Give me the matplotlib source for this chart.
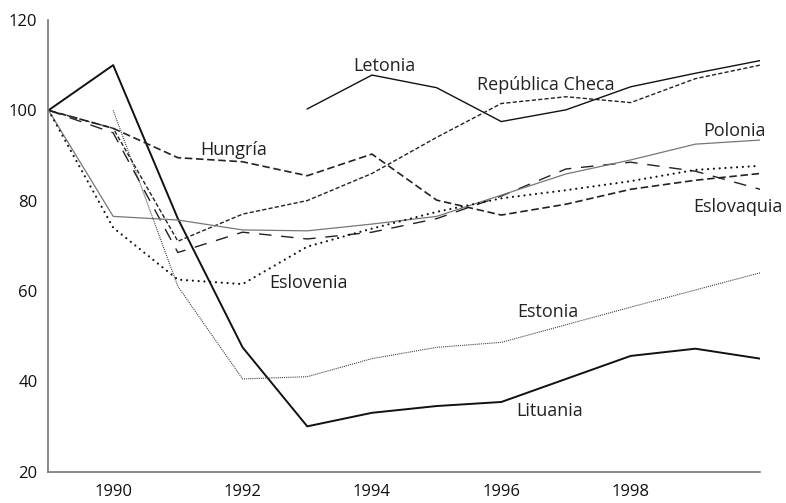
import matplotlib
matplotlib.use("Agg")
import matplotlib.pyplot as plt

plt.rcParams["font.family"] = ["Open Sans", "DejaVu Sans"]

years = list(range(1989, 2001))
years_letonia = list(range(1993, 2001))
years_estonia = list(range(1990, 2001))

lituania = [100, 110, 76, 47.5, 30, 33, 34.5, 35.4, 40.5, 45.6, 47.2, 45]
letonia = [100.3, 107.8, 105, 97.5, 100.1, 105.2, 108.2, 111]
rep_checa = [100, 96, 71, 77, 80, 86, 94, 101.5, 103, 101.7, 107, 110]
hungria = [100, 96, 89.5, 88.6, 85.5, 90.3, 80.1, 76.8, 79.2, 82.5, 84.5, 86]
eslovaquia = [100, 95, 68.5, 73, 71.5, 73, 76, 81, 87, 88.5, 86.5, 82.5]
polonia = [100, 76.5, 75.7, 73.5, 73.3, 74.8, 76.5, 81.2, 85.9, 89, 92.5, 93.4]
eslovenia = [100, 74, 62.5, 61.5, 69.8, 73.8, 77.5, 80.5, 82.3, 84.3, 86.8, 87.7]
estonia = [100, 61, 40.5, 41, 45, 47.5, 48.6, 52.5, 56.4, 60.2, 64]

# label text and where its baseline sits (year, value)
labels = [
    ("Letonia", 1994.20, 108.8),
    ("República Checa", 1996.69, 104.5),
    ("Hungría", 1991.86, 90.1),
    ("Polonia", 1999.61, 94.3),
    ("Eslovaquia", 1999.66, 77.5),
    ("Eslovenia", 1993.02, 60.6),
    ("Estonia", 1996.72, 54.3),
    ("Lituania", 1996.74, 32.3),
]

fig = plt.figure(figsize=(7.86, 5.03), dpi=100)
ax = fig.add_axes([0.0617, 0.0626, 0.9053, 0.8977])

kw = dict(solid_joinstyle="round", dash_joinstyle="round")
ax.plot(years, lituania, color="#111111", lw=1.4, **kw)
ax.plot(years_letonia, letonia, color="#111111", lw=1.0, **kw)
ax.plot(years, rep_checa, color="#222222", lw=1.0, dashes=(3, 1.6), **kw)
ax.plot(years, hungria, color="#222222", lw=1.2, dashes=(4.5, 2.2), **kw)
ax.plot(years, eslovaquia, color="#222222", lw=1.0, dashes=(9, 7), **kw)
ax.plot(years, polonia, color="#777777", lw=0.9, **kw)
ax.plot(years, eslovenia, color="#111111", lw=1.6, dashes=(0.01, 2.6),
        dash_capstyle="round")
ax.plot(years_estonia, estonia, color="#444444", lw=0.8, dashes=(1, 0.9), **kw)

for text, x, y in labels:
    ax.text(x, y, text, fontsize=13, color="#222222", ha="center", va="baseline")

ax.set_xlim(1989, 2000)
ax.set_ylim(20, 120)
ax.set_xticks([1990, 1992, 1994, 1996, 1998])
ax.set_yticks([20, 40, 60, 80, 100, 120])
ax.tick_params(length=0, labelsize=12, colors="#111111")
ax.tick_params(axis="x", pad=9)
ax.tick_params(axis="y", pad=8)
for side in ["top", "right"]:
    ax.spines[side].set_visible(False)
for side in ["left", "bottom"]:
    ax.spines[side].set_color("#777777")
    ax.spines[side].set_linewidth(1.2)

fig.savefig("out.png", dpi=100)
